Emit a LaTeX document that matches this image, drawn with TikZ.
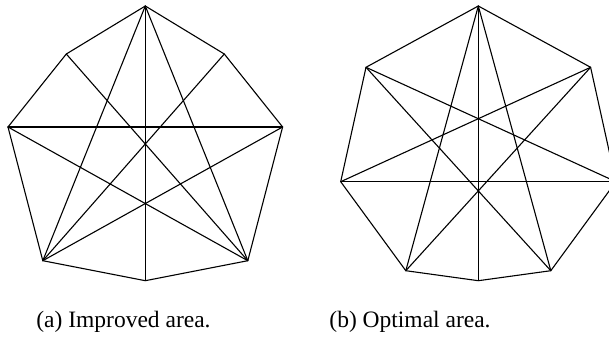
\documentclass[tikz,border=0pt]{standalone}
\usepackage{fontspec}
\setmainfont{Liberation Serif}
\begin{document}
\begin{tikzpicture}[x=1pt,y=-1pt,
  edge/.style={line width=1.1pt,line join=round,line cap=round},
  captext/.style={font=\fontsize{23.5}{28}\selectfont,anchor=base,inner sep=0pt}]
\useasboundingbox (0,0) rectangle (609,337);
\clip (0,0) rectangle (609,337);
% left polygon (a)
\coordinate (aT) at (145.3,6);
\coordinate (aUL) at (66.3,54);
\coordinate (aUR) at (224.3,54);
\coordinate (aL) at (8,127);
\coordinate (aR) at (282.6,127);
\coordinate (aLL) at (42.8,260.7);
\coordinate (aLR) at (247.8,260.7);
\coordinate (aB) at (145.3,280.7);
\draw[edge] (aT) -- (aUL) -- (aL) -- (aLL) -- (aB) -- (aLR) -- (aR) -- (aUR) -- cycle;
\draw[edge] (aT) -- (aB);
\draw[edge] (aL) -- (aR);
\draw[edge] (aT) -- (aLL);
\draw[edge] (aT) -- (aLR);
\draw[edge] (aUL) -- (aLR);
\draw[edge] (aUR) -- (aLL);
\draw[edge] (aL) -- (aLR);
\draw[edge] (aR) -- (aLL);
% right polygon (b)
\coordinate (bT) at (478.3,6);
\coordinate (bUL) at (366,67.3);
\coordinate (bUR) at (590.6,67.3);
\coordinate (bL) at (340.7,181.7);
\coordinate (bR) at (615.9,181.7);
\coordinate (bLL) at (405.8,270.7);
\coordinate (bLR) at (550.8,270.7);
\coordinate (bB) at (478.3,280.7);
\draw[edge] (bT) -- (bUL) -- (bL) -- (bLL) -- (bB) -- (bLR) -- (bR) -- (bUR) -- cycle;
\draw[edge] (bT) -- (bB);
\draw[edge] (bL) -- (bR);
\draw[edge] (bT) -- (bLL);
\draw[edge] (bT) -- (bLR);
\draw[edge] (bUL) -- (bR);
\draw[edge] (bUR) -- (bL);
\draw[edge] (bUL) -- (bLR);
\draw[edge] (bUR) -- (bLL);
% captions
\node[captext] (capa) at (123.5,327.3) {(a) Improved area.};
\node[captext] (capb) at (410,327.3) {(b) Optimal area.};
\end{tikzpicture}
\end{document}
